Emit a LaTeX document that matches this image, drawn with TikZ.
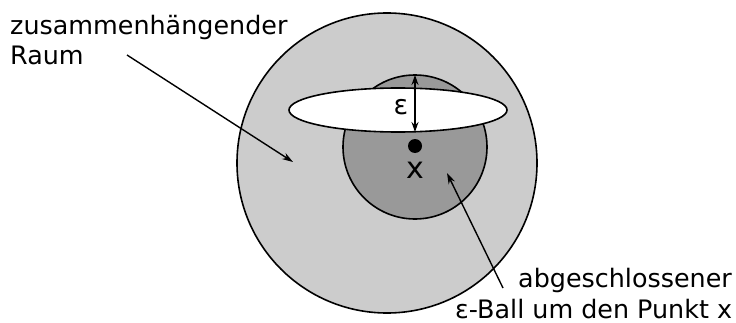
\documentclass[tikz,border=0pt]{standalone}
\usepackage{fontspec}
\setmainfont{DejaVu Sans}
\usetikzlibrary{arrows.meta,shapes.geometric}
\definecolor{lightg}{HTML}{CCCCCC}
\definecolor{darkg}{HTML}{999999}
\begin{document}
\begin{tikzpicture}[x=1pt,y=1pt,
  edge/.style={line width=1.6pt},
  conn/.style={line width=1.4pt,-{Stealth[length=11pt,width=7pt]}},
  lbl/.style={inner sep=0pt,font=\fontsize{25.4}{30}\selectfont}]
\useasboundingbox (0,0) rectangle (736,322);
\draw[edge,fill=lightg] (387,159) circle[radius=150];
\draw[edge,fill=darkg] (415,175) circle[radius=72];
\node[edge,draw,fill=white,ellipse,minimum width=218pt,minimum height=44pt,inner sep=0pt] (ell) at (398,212) {};
\coordinate (ctop) at (415,247);
\coordinate (ebot) at (415,190);
\draw[line width=1.4pt,{Stealth[length=10pt,width=7pt]}-{Stealth[length=10pt,width=7pt]}] (ctop) -- (ebot);
\node[inner sep=0pt,font=\fontsize{27}{30}\selectfont] (eps) at (401,215) {ε};
\fill (415,176) circle[radius=7];
\node[inner sep=0pt,font=\fontsize{30}{30}\selectfont] (xl) at (415,152) {x};
\node[lbl,anchor=base west] (t1) at (10,287) {zusammenhängender};
\node[lbl,anchor=base west] (t1b) at (10,257) {Raum};
\node[lbl,anchor=base west] (t2) at (518,35) {abgeschlossener};
\node[lbl,anchor=base west] (t2b) at (455,4) {ε-Ball um den Punkt x};
\coordinate (a1) at (127,267);
\coordinate (a1e) at (293,160);
\draw[conn] (a1) -- (a1e);
\coordinate (a2) at (503,34);
\coordinate (a2e) at (447,149);
\draw[conn] (a2) -- (a2e);
\end{tikzpicture}
\end{document}
